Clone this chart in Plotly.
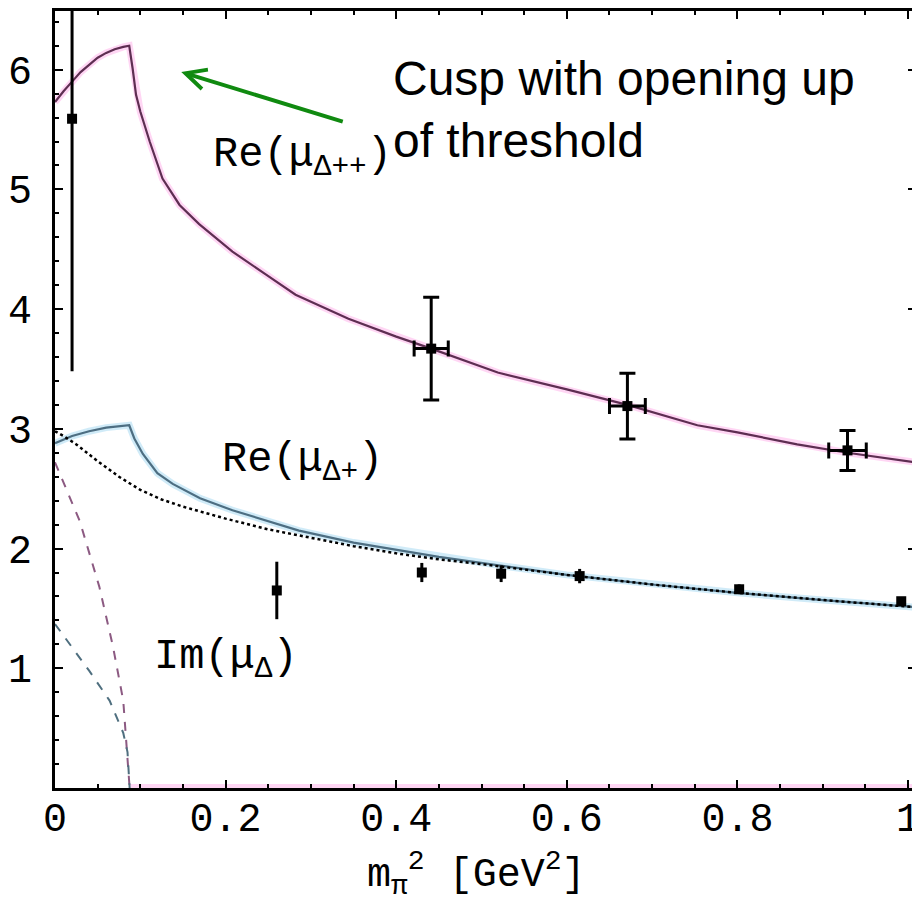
import plotly.graph_objects as go

# ---- curves ----
re_pp_x = [0.000, 0.010, 0.020, 0.030, 0.040, 0.050, 0.060, 0.070, 0.080, 0.087,
           0.091, 0.095, 0.100, 0.111, 0.126, 0.146, 0.169, 0.208, 0.247, 0.282,
           0.344, 0.400, 0.441, 0.519, 0.600, 0.671, 0.753, 0.800, 0.870, 0.929, 1.009]
re_pp_y = [5.73, 5.82, 5.90, 5.98, 6.04, 6.10, 6.14, 6.17, 6.19, 6.20,
           6.01, 5.79, 5.65, 5.40, 5.09, 4.87, 4.71, 4.48, 4.29, 4.12,
           3.92, 3.77, 3.67, 3.47, 3.33, 3.20, 3.03, 2.97, 2.87, 2.80, 2.72]

re_p_x = [0.000, 0.020, 0.040, 0.060, 0.087, 0.093, 0.103, 0.120, 0.138, 0.170,
          0.208, 0.250, 0.286, 0.350, 0.400, 0.450, 0.520, 0.600, 0.700, 0.800, 0.900, 1.009]
re_p_y = [2.88, 2.94, 2.98, 3.01, 3.03, 2.92, 2.79, 2.63, 2.54, 2.42,
          2.32, 2.23, 2.15, 2.05, 1.99, 1.93, 1.86, 1.78, 1.70, 1.63, 1.57, 1.51]

re_p_dot_x = [0.000, 0.010, 0.025, 0.050, 0.075, 0.100, 0.125, 0.150, 0.200, 0.250,
              0.300, 0.350, 0.400, 0.450, 0.500, 0.600, 0.700, 0.800, 0.900, 1.009]
re_p_dot_y = [2.98, 2.94, 2.87, 2.73, 2.60, 2.49, 2.41, 2.35, 2.25, 2.16,
              2.09, 2.02, 1.96, 1.91, 1.87, 1.78, 1.70, 1.63, 1.57, 1.51]

im_pp_x = [0.000, 0.010, 0.029, 0.052, 0.068, 0.080, 0.084, 0.0875]
im_pp_y = [2.72, 2.55, 2.23, 1.68, 1.18, 0.73, 0.34, 0.00]

im_p_x = [0.000, 0.020, 0.040, 0.064, 0.080, 0.085, 0.0875]
im_p_y = [1.37, 1.18, 0.98, 0.73, 0.46, 0.30, 0.00]

im_zero_x = [0.0875, 1.009]
im_zero_y = [0.0, 0.0]

# ---- lattice data points ----
pp_x = [0.441, 0.671, 0.929]
pp_y = [3.67, 3.19, 2.82]
pp_ey = [0.43, 0.275, 0.167]
pp_ex = [0.020, 0.021, 0.022]

p0_x = [0.020]
p0_y = [5.59]
p0_eplus = [2.2]
p0_eminus = [2.11]

p_x = [0.260, 0.430, 0.523, 0.615, 0.802, 0.992]
p_y = [1.65, 1.80, 1.79, 1.77, 1.66, 1.56]
p_ey = [0.24, 0.08, 0.07, 0.06, 0.04, 0.03]

x_ticks = [0, 0.2, 0.4, 0.6, 0.8, 1.0]
x_ticktext = ["0", "0.2", "0.4", "0.6", "0.8", "1"]
y_ticks = [1, 2, 3, 4, 5, 6]
y_ticktext = ["1", "2", "3", "4", "5", "6"]

PINK_HALO = "rgba(255,165,230,0.45)"
BLUE_HALO = "rgba(150,210,240,0.45)"
RE_PP = "#5e2e52"
RE_P = "#4d6e82"

fig = go.Figure()

# halos
fig.add_trace(go.Scatter(x=re_pp_x, y=re_pp_y, mode="lines",
                         line=dict(color=PINK_HALO, width=7), hoverinfo="skip"))
fig.add_trace(go.Scatter(x=re_p_x, y=re_p_y, mode="lines",
                         line=dict(color=BLUE_HALO, width=7), hoverinfo="skip"))
fig.add_trace(go.Scatter(x=im_zero_x, y=im_zero_y, mode="lines",
                         line=dict(color=PINK_HALO, width=8), hoverinfo="skip"))

# main curves
fig.add_trace(go.Scatter(x=re_pp_x, y=re_pp_y, mode="lines",
                         line=dict(color=RE_PP, width=2.2)))
fig.add_trace(go.Scatter(x=re_p_x, y=re_p_y, mode="lines",
                         line=dict(color=RE_P, width=2.2)))
fig.add_trace(go.Scatter(x=re_p_dot_x, y=re_p_dot_y, mode="lines",
                         line=dict(color="black", width=2.5, dash="dot")))
fig.add_trace(go.Scatter(x=im_pp_x, y=im_pp_y, mode="lines",
                         line=dict(color="#8c5a82", width=2, dash="dash")))
fig.add_trace(go.Scatter(x=im_p_x, y=im_p_y, mode="lines",
                         line=dict(color="#4f6f7f", width=2, dash="dash")))

# data points
fig.add_trace(go.Scatter(x=pp_x, y=pp_y, mode="markers",
                         marker=dict(color="black", size=10, symbol="square"),
                         error_y=dict(type="data", array=pp_ey, color="black", thickness=3, width=8),
                         error_x=dict(type="data", array=pp_ex, color="black", thickness=3, width=8)))
fig.add_trace(go.Scatter(x=p0_x, y=p0_y, mode="markers",
                         marker=dict(color="black", size=10, symbol="square"),
                         error_y=dict(type="data", symmetric=False, array=p0_eplus,
                                      arrayminus=p0_eminus, color="black", thickness=3, width=0)))
fig.add_trace(go.Scatter(x=p_x, y=p_y, mode="markers",
                         marker=dict(color="black", size=10, symbol="square"),
                         error_y=dict(type="data", array=p_ey, color="black", thickness=3, width=0)))

MONO = "Liberation Mono"

# page body adds an 8px offset: figure is sized/placed so the frame lands where the reference has it
fig.update_layout(
    width=912, height=889,
    margin=dict(l=47, r=0, t=1, b=109),
    paper_bgcolor="white", plot_bgcolor="white",
    showlegend=False,
    xaxis=dict(range=[0, 1.0093], tickvals=x_ticks, ticktext=x_ticktext,
               showgrid=False, zeroline=False, showline=True, linecolor="black",
               linewidth=3, mirror="ticks", ticks="inside", ticklen=8, tickwidth=2,
               tickcolor="black", ticklabeloverflow="allow", ticklabelstandoff=-8,
               tickfont=dict(family=MONO, size=40, color="black"),
               minor=dict(dtick=0.05, tick0=0, ticks="inside", ticklen=4,
                          tickwidth=2, tickcolor="black")),
    yaxis=dict(range=[0, 6.49], tickvals=y_ticks, ticktext=y_ticktext,
               showgrid=False, zeroline=False, showline=True, linecolor="black",
               linewidth=3, mirror="ticks", ticks="inside", ticklen=8, tickwidth=2,
               tickcolor="black", ticklabelstandoff=12,
               tickfont=dict(family=MONO, size=40, color="black"),
               minor=dict(dtick=0.2, tick0=0, ticks="inside", ticklen=4,
                          tickwidth=2, tickcolor="black")),
)

fig.add_annotation(xref="paper", yref="paper", x=0.49, y=-0.072,
                   text="m<sub>π</sub><sup>2</sup> [GeV<sup>2</sup>]", showarrow=False,
                   font=dict(family=MONO, size=40, color="black"),
                   xanchor="center", yanchor="top")

fig.add_annotation(x=0.183, y=5.27, xref="x", yref="y",
                   text="Re(μ<sub>Δ++</sub>)", showarrow=False,
                   font=dict(family=MONO, size=42, color="black"),
                   xanchor="left", yanchor="middle")
fig.add_annotation(x=0.193, y=2.72, xref="x", yref="y",
                   text="Re(μ<sub>Δ+</sub>)", showarrow=False,
                   font=dict(family=MONO, size=42, color="black"),
                   xanchor="left", yanchor="middle")
fig.add_annotation(x=0.114, y=1.07, xref="x", yref="y",
                   text="Im(μ<sub>Δ</sub>)", showarrow=False,
                   font=dict(family=MONO, size=42, color="black"),
                   xanchor="left", yanchor="middle")

fig.add_annotation(x=0.394, y=5.67, xref="x", yref="y",
                   text="Cusp with opening up<br>of threshold", showarrow=False,
                   font=dict(family="Liberation Sans", size=48, color="black"),
                   xanchor="left", yanchor="middle", align="left")

fig.add_annotation(x=0.148, y=5.98, xref="x", yref="y", text="",
                   showarrow=True, ax=163, ay=50, arrowhead=5, arrowsize=1,
                   arrowwidth=4, arrowcolor="#108a10")

fig.write_html("out.html")
